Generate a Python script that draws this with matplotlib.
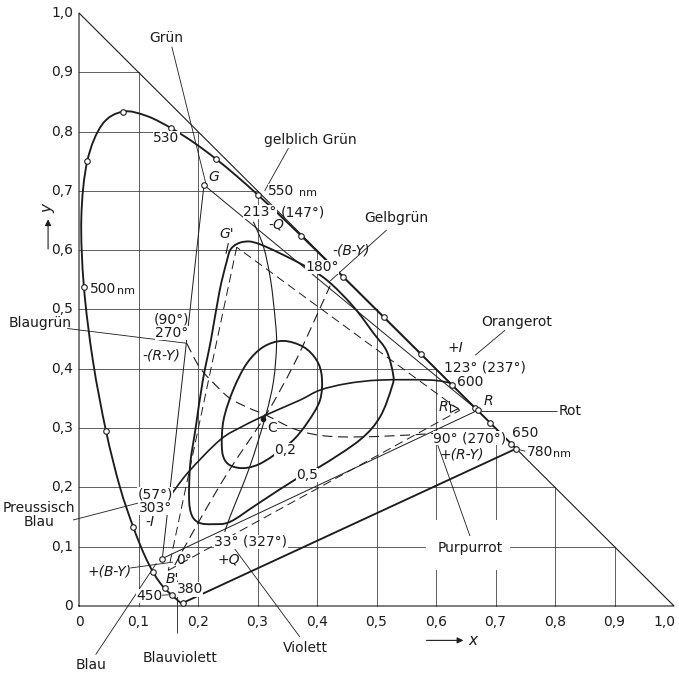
import numpy as np
import matplotlib
matplotlib.use("Agg")
import matplotlib.pyplot as plt
from matplotlib.path import Path
from matplotlib.patches import PathPatch, Rectangle

# ---------------- data ----------------
# CIE 1931 spectral locus (wavelength nm, x, y)
wl = [380, 390, 400, 410, 420, 425, 430, 435, 440, 445, 450, 455, 460, 465, 470, 475,
      480, 485, 490, 495, 500, 505, 510, 515, 520, 525, 530, 535, 540, 545, 550, 555,
      560, 565, 570, 575, 580, 585, 590, 595, 600, 605, 610, 615, 620, 625, 630, 635,
      640, 645, 650, 660, 670, 680, 780]
loc_x = [0.1741, 0.1738, 0.1733, 0.1726, 0.1714, 0.1703, 0.1689, 0.1669, 0.1644, 0.1611,
         0.1566, 0.1510, 0.1440, 0.1355, 0.1241, 0.1096, 0.0913, 0.0687, 0.0454, 0.0235,
         0.0082, 0.0039, 0.0139, 0.0389, 0.0743, 0.1142, 0.1547, 0.1929, 0.2296, 0.2658,
         0.3016, 0.3373, 0.3731, 0.4087, 0.4441, 0.4788, 0.5125, 0.5448, 0.5752, 0.6029,
         0.6270, 0.6482, 0.6658, 0.6801, 0.6915, 0.7006, 0.7079, 0.7140, 0.7190, 0.7230,
         0.7260, 0.7300, 0.7334, 0.7347, 0.7347]
loc_y = [0.0050, 0.0049, 0.0048, 0.0048, 0.0051, 0.0058, 0.0069, 0.0086, 0.0109, 0.0138,
         0.0177, 0.0227, 0.0297, 0.0399, 0.0578, 0.0868, 0.1327, 0.2007, 0.2950, 0.4127,
         0.5384, 0.6548, 0.7502, 0.8120, 0.8338, 0.8262, 0.8059, 0.7816, 0.7543, 0.7243,
         0.6923, 0.6589, 0.6245, 0.5896, 0.5547, 0.5202, 0.4866, 0.4544, 0.4242, 0.3965,
         0.3725, 0.3514, 0.3340, 0.3197, 0.3083, 0.2993, 0.2920, 0.2859, 0.2809, 0.2770,
         0.2740, 0.2700, 0.2666, 0.2653, 0.2653]
marked_wl = [380, 450, 460, 470, 480, 490, 500, 510, 520, 530, 540, 550, 560, 570, 580,
             590, 600, 610, 620, 650, 780]

# NTSC primaries R, G, B and EBU primaries R', G', B'
ntsc_x = [0.67, 0.21, 0.14]
ntsc_y = [0.33, 0.71, 0.08]
ebu_x = [0.64, 0.265, 0.15]
ebu_y = [0.33, 0.605, 0.06]
white_x, white_y = 0.310, 0.316

# colour difference axes (curves)
I_x = [0.153, 0.184, 0.237, 0.275, 0.314, 0.371, 0.405, 0.45, 0.506, 0.59, 0.625]
I_y = [0.185, 0.226, 0.280, 0.303, 0.322, 0.347, 0.364, 0.375, 0.381, 0.381, 0.376]
Q_x = [0.293, 0.310, 0.322, 0.330, 0.332, 0.327, 0.314, 0.287, 0.254, 0.245]
Q_y = [0.648, 0.606, 0.550, 0.480, 0.440, 0.380, 0.322, 0.235, 0.151, 0.125]
RY_x = [0.181, 0.203, 0.230, 0.254, 0.285, 0.314, 0.366, 0.422, 0.506, 0.596]
RY_y = [0.443, 0.402, 0.372, 0.350, 0.334, 0.322, 0.297, 0.286, 0.286, 0.291]
BY_x = [0.161, 0.200, 0.250, 0.314, 0.360, 0.395, 0.422]
BY_y = [0.069, 0.140, 0.225, 0.322, 0.405, 0.480, 0.540]

# saturation contours 0,2 and 0,5 (closed)
s02_x = [0.343, 0.377, 0.399, 0.408, 0.405, 0.383, 0.355, 0.310, 0.282, 0.259, 0.245,
         0.240, 0.243, 0.259, 0.282, 0.310]
s02_y = [0.447, 0.437, 0.415, 0.387, 0.347, 0.308, 0.275, 0.243, 0.233, 0.235, 0.246,
         0.269, 0.314, 0.364, 0.409, 0.437]
s05_x = [0.225, 0.254, 0.300, 0.371, 0.405, 0.472, 0.506, 0.526, 0.528, 0.517, 0.495,
         0.461, 0.416, 0.371, 0.304, 0.276, 0.256, 0.248, 0.236, 0.222, 0.208, 0.196,
         0.187, 0.185, 0.190, 0.203]
s05_y = [0.138, 0.142, 0.172, 0.218, 0.235, 0.280, 0.319, 0.370, 0.390, 0.430, 0.460,
         0.505, 0.550, 0.578, 0.610, 0.614, 0.603, 0.580, 0.530, 0.450, 0.380, 0.300,
         0.240, 0.180, 0.152, 0.140]

ticks = [0.0, 0.1, 0.2, 0.3, 0.4, 0.5, 0.6, 0.7, 0.8, 0.9, 1.0]
tick_labels = ["0", "0,1", "0,2", "0,3", "0,4", "0,5", "0,6", "0,7", "0,8", "0,9", "1,0"]

# ---------------- drawing ----------------
INK = "#1c1c1c"
plt.rcParams["font.family"] = ["DejaVu Sans"]
fig = plt.figure(figsize=(6.79, 6.73), dpi=100)
ax = fig.add_axes([0, 0, 1, 1])
ax.set_xlim(-0.1328, 1.0084)
ax.set_ylim(-0.113, 1.0219)
ax.axis("off")

THICK = 1.35
THIN = 0.6
DASH = (0, (9, 5))


def smooth_path(xs, ys, closed=False):
    P = np.column_stack([xs, ys]).astype(float)
    n = len(P)
    if closed:
        get = lambda i: P[i % n]
        segs = range(n)
    else:
        get = lambda i: P[min(max(i, 0), n - 1)]
        segs = range(n - 1)
    verts = [P[0]]
    codes = [Path.MOVETO]
    for i in segs:
        p0, p1, p2, p3 = get(i - 1), get(i), get(i + 1), get(i + 2)
        c1 = p1 + (p2 - p0) / 6.0
        c2 = p2 - (p3 - p1) / 6.0
        verts += [c1, c2, p2]
        codes += [Path.CURVE4] * 3
    return Path(verts, codes)


def curve(xs, ys, closed=False, lw=THICK, ls="-", z=3):
    ax.add_patch(PathPatch(smooth_path(xs, ys, closed), fill=False, ec=INK, lw=lw,
                           ls=ls, zorder=z, capstyle="butt", joinstyle="round"))


def seg(x0, y0, x1, y1, lw=THIN, ls="-", z=3):
    ax.plot([x0, x1], [y0, y1], color=INK, lw=lw, ls=ls, zorder=z, solid_capstyle="butt")


# grid inside the triangle
for t in ticks[1:-1]:
    ax.plot([0, 1 - t], [t, t], color="#333333", lw=0.55, zorder=1)
    ax.plot([t, t], [0, 1 - t], color="#333333", lw=0.55, zorder=1)
# triangle frame
ax.plot([0, 1, 0, 0], [0, 0, 1, 0], color=INK, lw=0.8, zorder=2)

# white gap around "Purpurrot"
ax.add_patch(Rectangle((0.584, 0.060), 0.14, 0.085, fc="white", ec="none", zorder=1.5))

# spectral locus and purple line
curve(loc_x, loc_y, lw=THICK)
ax.plot([loc_x[0], loc_x[-1]], [loc_y[0], loc_y[-1]], color=INK, lw=THICK, zorder=3)
mk = [wl.index(w) for w in marked_wl]
ax.plot([loc_x[i] for i in mk], [loc_y[i] for i in mk], "o", ms=4, mfc="white",
        mec=INK, mew=0.8, ls="none", zorder=5)

# NTSC triangle (thin) and EBU triangle (dashed)
for i in range(3):
    j = (i + 1) % 3
    seg(ntsc_x[i], ntsc_y[i], ntsc_x[j], ntsc_y[j], lw=0.7)
    seg(ebu_x[i], ebu_y[i], ebu_x[j], ebu_y[j], lw=0.7, ls=DASH)
ax.plot(ntsc_x, ntsc_y, "o", ms=4, mfc="white", mec=INK, mew=0.8, ls="none", zorder=5)

# axes I, Q, R-Y, B-Y
curve(I_x, I_y, lw=1.2)
curve(Q_x, Q_y, lw=0.8)
curve(RY_x, RY_y, lw=0.8, ls=DASH)
curve(BY_x, BY_y, lw=0.8, ls=DASH)
ax.plot([white_x], [white_y], "o", ms=3, color=INK, zorder=5)

# saturation contours
curve(s02_x, s02_y, closed=True, lw=THICK)
curve(s05_x, s05_y, closed=True, lw=THICK)

# small marks at R' and G'
ax.plot([ebu_x[0] - 0.01], [ebu_y[0] + 0.004], marker=">", ms=6, mfc="white", mec=INK,
        mew=0.8, zorder=5)
seg(0.247, 0.594, 0.251, 0.612, lw=0.8)

# leader lines
leaders = [
    ((0.156, 0.943), (0.213, 0.713)),   # Grün
    ((0.352, 0.772), (0.312, 0.700)),   # gelblich Grün
    ((0.517, 0.634), (0.422, 0.548)),   # Gelbgrün
    ((0.716, 0.465), (0.666, 0.423)),   # Orangerot
    ((0.675, 0.328), (0.803, 0.328)),   # Rot
    ((0.738, 0.264), (0.750, 0.261)),   # 780 nm
    ((0.596, 0.291), (0.657, 0.118)),   # Purpurrot
    ((0.259, 0.100), (0.371, -0.052)),  # Violett
    ((0.164, 0.044), (0.164, -0.045)),  # Blauviolett
    ((0.028, -0.082), (0.130, 0.072)),  # Blau
    ((0.135, 0.018), (0.153, 0.019)),   # 450
    ((0.086, 0.064), (0.158, 0.074)),   # +(B-Y)
    ((-0.010, 0.145), (0.105, 0.175)),  # Preussisch Blau
    ((-0.020, 0.468), (0.181, 0.443)),  # Blaugrün
]
for (a, b) in leaders:
    seg(a[0], a[1], b[0], b[1], lw=0.6)

# tick labels
FS = 10
for t, lab in zip(ticks, tick_labels):
    xx = t if t < 1 else 0.984
    ax.text(xx, -0.0265, lab, ha="center", va="center", fontsize=FS, color=INK)
    ax.text(-0.010, t, lab, ha="right", va="center", fontsize=FS, color=INK)

# axis labels with arrows
ax.annotate("", xy=(0.646, -0.058), xytext=(0.584, -0.058),
            arrowprops=dict(arrowstyle="-|>", lw=0.8, color=INK, mutation_scale=9,
                            shrinkA=0, shrinkB=0))
ax.text(0.662, -0.059, "x", ha="center", va="center", fontsize=11, style="italic",
        color=INK)
ax.annotate("", xy=(-0.052, 0.652), xytext=(-0.052, 0.602),
            arrowprops=dict(arrowstyle="-|>", lw=0.8, color=INK, mutation_scale=9,
                            shrinkA=0, shrinkB=0))
ax.text(-0.052, 0.670, "y", ha="center", va="center", fontsize=11, style="italic",
        rotation=90, color=INK)

WB = dict(fc="white", ec="none", pad=0.05)


def label(x, y, s, ha="center", fs=FS, italic=False, bg=False, **kw):
    ax.text(x, y, s, ha=ha, va="center", fontsize=fs, color=INK,
            style="italic" if italic else "normal", zorder=6,
            bbox=WB if bg else None, **kw)


label(0.147, 0.957, "Grün", bg=True)
label(0.147, 0.789, "530", bg=True)
label(0.018, 0.534, "500", ha="left", bg=True)
label(0.064, 0.531, "nm", ha="left", fs=8)
label(0.318, 0.699, "550", ha="left", bg=True)
label(0.369, 0.696, "nm", ha="left", fs=8)
label(0.388, 0.786, "gelblich Grün", bg=True)
label(0.226, 0.724, "G", italic=True)
label(0.304, 0.665, "213°", bg=True)
label(0.377, 0.663, "(147°)")
label(0.318, 0.644, "-Q", italic=True, ha="left")
label(0.248, 0.628, "G'", italic=True)
label(0.534, 0.654, "Gelbgrün", bg=True)
label(0.458, 0.600, "-(B-Y)", italic=True)
label(0.409, 0.572, "180°", bg=True)
label(0.735, 0.479, "Orangerot")
label(0.632, 0.435, "+I", italic=True)
label(0.683, 0.403, "123° (237°)")
label(0.636, 0.377, "600", ha="left")
label(0.688, 0.345, "R", italic=True)
label(0.615, 0.335, "R'", italic=True)
label(0.825, 0.328, "Rot")
label(0.750, 0.291, "650")
label(0.752, 0.260, "780", ha="left")
label(0.797, 0.257, "nm", ha="left", fs=8)
label(0.656, 0.283, "90° (270°)", bg=True)
label(0.643, 0.256, "+(R-Y)", italic=True)
label(0.657, 0.097, "Purpurrot")
label(0.325, 0.300, "C", bg=True)
label(0.346, 0.263, "0,2", bg=True)
label(0.383, 0.221, "0,5", bg=True)
label(0.289, 0.108, "33° (327°)", bg=True)
label(0.252, 0.078, "+Q", italic=True)
label(0.176, 0.078, "0°")
label(0.156, 0.046, "B'", italic=True)
label(0.118, 0.017, "450", bg=True)
label(0.186, 0.028, "380", bg=True)
label(0.052, 0.058, "+(B-Y)", italic=True)
label(0.128, 0.188, "(57°)", bg=True)
label(0.128, 0.165, "303°", bg=True)
label(0.120, 0.142, "-I", italic=True)
label(-0.067, 0.165, "Preussisch", bg=True)
label(-0.067, 0.141, "Blau", bg=True)
label(0.156, 0.483, "(90°)")
label(0.156, 0.460, "270°", bg=True)
label(0.139, 0.423, "-(R-Y)", italic=True, bg=True)
label(-0.066, 0.477, "Blaugrün")
label(0.380, -0.071, "Violett")
label(0.170, -0.088, "Blauviolett")
label(0.020, -0.099, "Blau")

fig.savefig("out.png", dpi=100, facecolor="white")
